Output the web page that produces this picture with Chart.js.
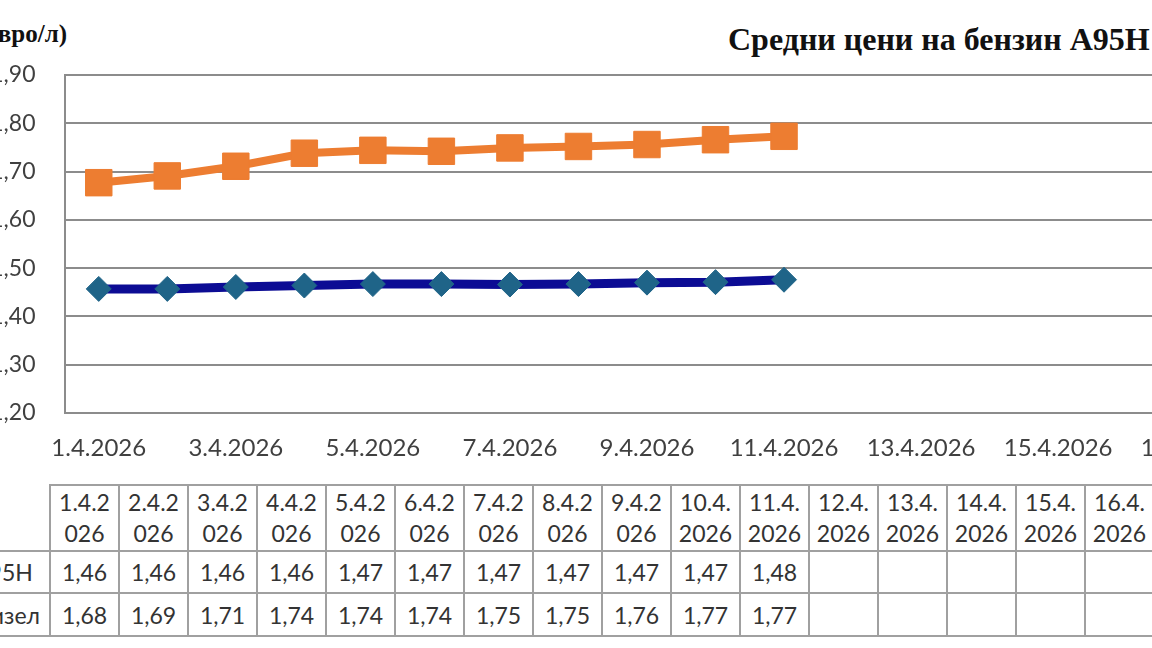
<!DOCTYPE html>
<html>
<head>
<meta charset="utf-8">
<script src="https://cdn.jsdelivr.net/npm/chart.js@4.4.1/dist/chart.umd.min.js"></script>
<style>
    html, body { margin: 0; padding: 0; background: #fff; }
    #wrap { position: relative; width: 1152px; height: 648px; overflow: hidden; background: #fff;
            font-family: Lato, 'Open Sans', sans-serif; color: #333; }
    #myChart { position: absolute; left: -100px; top: 0; }
    .unit { position: absolute; right: 1085px; top: 20px; font: bold 25px 'Liberation Serif', serif;
            color: #111; white-space: nowrap; line-height: 28px; }
    .title { position: absolute; left: 728px; top: 21px; font: bold 32px 'Liberation Serif', serif;
             color: #111; white-space: nowrap; line-height: 36px; }
    .cell { position: absolute; box-sizing: border-box; border: 2px solid #a0a0a0; display: flex;
            align-items: center; justify-content: center; text-align: center; font-size: 23px; color: #333; }
    .cell.head span { display: block; width: 100%; padding: 0 3px; box-sizing: border-box;
                      word-break: break-all; line-height: 31px; }
    .cell.name { justify-content: flex-start; border-left: none; padding-left: 54px; }
</style>
</head>
<body>
<div id="wrap">
    <div class="unit">(евро/л)</div>
    <div class="title">Средни цени на бензин A95H и дизел</div>
    <canvas id="myChart" width="2240" height="470"></canvas>
    <div id="table"></div>
</div>
<script>
const categories = ['1.4.2026', '2.4.2026', '3.4.2026', '4.4.2026', '5.4.2026', '6.4.2026',
    '7.4.2026', '8.4.2026', '9.4.2026', '10.4.2026', '11.4.2026', '12.4.2026', '13.4.2026',
    '14.4.2026', '15.4.2026', '16.4.2026', '17.4.2026', '18.4.2026', '19.4.2026', '20.4.2026',
    '21.4.2026', '22.4.2026', '23.4.2026', '24.4.2026', '25.4.2026', '26.4.2026', '27.4.2026',
    '28.4.2026', '29.4.2026', '30.4.2026'];
const seriesNames = ['A95H', 'Дизел'];
const a95Prices = [1.457, 1.457, 1.461, 1.464, 1.467, 1.467, 1.466, 1.467, 1.470, 1.471, 1.476];
const dieselPrices = [1.677, 1.691, 1.711, 1.738, 1.744, 1.742, 1.749, 1.752, 1.756, 1.766, 1.773];
const yMin = 1.2, yMax = 1.9, yStep = 0.1;

const fmt = v => v.toFixed(2).replace('.', ',');

let ctx = document.getElementById('myChart');
let myChart = new Chart(ctx, {
    type: 'line',
    data: {
        labels: categories,
        datasets: [{
            label: seriesNames[0],
            data: a95Prices,
            borderColor: '#0c0c94',
            borderWidth: 9,
            tension: 0,
            pointStyle: 'rectRot',
            pointRadius: 12.5,
            pointBackgroundColor: '#1f6488',
            pointBorderColor: '#1f6488',
            pointBorderWidth: 1
        }, {
            label: seriesNames[1],
            data: dieselPrices,
            borderColor: '#ed7d31',
            borderWidth: 8,
            tension: 0,
            pointStyle: 'rect',
            pointRadius: 18.7,
            pointBackgroundColor: '#ed7d31',
            pointBorderColor: '#ed7d31',
            pointBorderWidth: 1
        }]
    },
    options: {
        responsive: false,
        animation: false,
        devicePixelRatio: 1,
        layout: {
            padding: { top: 75, right: 16, bottom: 0, left: 0 }
        },
        plugins: {
            legend: { display: false },
            tooltip: { enabled: false }
        },
        scales: {
            x: {
                offset: true,
                grid: { display: false, drawTicks: false },
                border: { display: true, color: '#8c8c8c', width: 2 },
                afterFit: s => { s.height = 57; },
                ticks: {
                    autoSkip: false,
                    maxRotation: 0,
                    padding: 21,
                    color: '#404040',
                    font: { family: 'Lato', size: 24 },
                    callback: (v, i) => i % 2 === 0 ? categories[i] : ''
                }
            },
            y: {
                min: yMin,
                max: yMax,
                afterFit: s => { s.width = 164.5; },
                grid: { color: '#8c8c8c', lineWidth: 2, drawTicks: false },
                border: { display: true, color: '#8c8c8c', width: 2 },
                ticks: {
                    stepSize: yStep,
                    padding: 29,
                    color: '#404040',
                    font: { family: 'Lato', size: 23 },
                    callback: v => fmt(v)
                }
            }
        }
    }
});

// data table under the chart
let table = document.getElementById('table');
const colLeft = 50, colW = 69;
const rows = [{ top: 485, h: 66 }, { top: 551, h: 42 }, { top: 593, h: 43 }];

function addCell(x, w, row, html, cls) {
    let d = document.createElement('div');
    d.className = 'cell' + (cls ? ' ' + cls : '');
    d.style.left = (x - 1) + 'px';
    d.style.width = (w + 2) + 'px';
    d.style.top = (row.top - 1) + 'px';
    d.style.height = (row.h + 2) + 'px';
    d.innerHTML = html;
    table.appendChild(d);
}

addCell(-80, 130, rows[1], seriesNames[0], 'name');
addCell(-80, 130, rows[2], seriesNames[1], 'name');
categories.forEach((c, i) => {
    let x = colLeft + i * colW;
    addCell(x, colW, rows[0], '<span>' + c + '</span>', 'head');
    addCell(x, colW, rows[1], i < a95Prices.length ? fmt(a95Prices[i]) : '');
    addCell(x, colW, rows[2], i < dieselPrices.length ? fmt(dieselPrices[i]) : '');
});
</script>
</body>
</html>
